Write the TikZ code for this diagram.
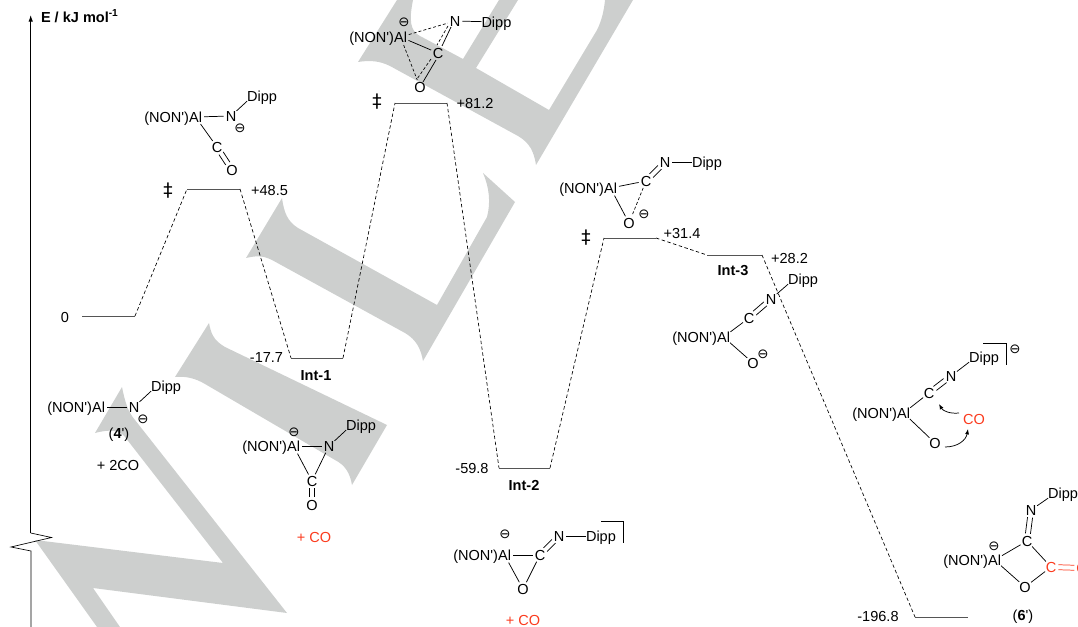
\documentclass[tikz,border=0pt]{standalone}
\usepackage{fontspec}
\setmainfont{Liberation Sans}[Ligatures=TeXOff]
\newfontfamily\djv{DejaVu Sans}
\usetikzlibrary{arrows.meta}
\definecolor{wm}{HTML}{CDCFCE}
\definecolor{redco}{HTML}{FB3B1E}
\definecolor{lev}{HTML}{555555}
\tikzset{
  lab/.style={font=\fontsize{10.9pt}{12pt}\selectfont, inner sep=0pt, outer sep=0pt, text height=7.8pt, text depth=0pt},
  boldlab/.style={lab, font=\fontsize{10.9pt}{12pt}\selectfont\bfseries},
  redlab/.style={lab, text=redco},
  atom/.style={lab, circle, minimum size=11.2pt},
  alhub/.style={circle, minimum size=13pt, inner sep=0pt, outer sep=0pt},
  chg/.style={font=\fontsize{10pt}{12pt}\selectfont\djv, inner sep=0pt},
  dag/.style={font=\fontsize{14pt}{14pt}\selectfont\djv, inner sep=0pt},
  bond/.style={line width=0.55pt, black, line cap=butt},
  dbond/.style={line width=0.5pt, black, dash pattern=on 2.2pt off 1.6pt},
  path line/.style={line width=0.5pt, black, dash pattern=on 2.6pt off 1.9pt},
  level/.style={line width=0.7pt, lev},
  axis/.style={line width=0.7pt, black},
  curly/.style={line width=0.55pt, black, -{Latex[length=4pt,width=3pt]}},
  wmfill/.style={fill=wm, draw=none}
}
\newcommand\twobond[5][]{%
  \draw[bond,#1,transform canvas={shift={(#4,#5)}}] (#2) -- (#3);
  \draw[bond,#1,transform canvas={shift={(-#4,-#5)}}] (#2) -- (#3);}
\begin{document}
\begin{tikzpicture}[x=0.75pt,y=-0.75pt]
\useasboundingbox (0,0) rectangle (1078,627);
% watermark
\fill[wmfill] (122,387) .. controls (125,402) and (128,412) .. (135,420) -- (287,613) -- (93,588) -- (120,627) -- (97,627) -- (35,540) -- (223,563) -- (125,437) .. controls (120,430) and (110,429) .. (95,433) -- cycle;
\fill[wmfill] (209,323) .. controls (211,333) and (213,340) .. (225,347) -- (387,425) -- (352,485) .. controls (350,473) and (345,465) .. (335,460) -- (205,384) .. controls (195,378) and (185,376) .. (175,377) -- cycle;
\fill[wmfill] (282,198) .. controls (284,212) and (287,221) .. (298,228) -- (437,305) -- (487,217) .. controls (491,202) and (489,187) .. (483,173) -- (515,202) -- (423,361) .. controls (421,350) and (417,340) .. (405,333) -- (272,260) .. controls (262,255) and (255,256) .. (246,258) -- cycle;
\fill[wmfill] (397,0) -- (358,62) .. controls (370,60) and (380,61) .. (390,66) -- (518,136) .. controls (530,143) and (534,152) .. (536,165) -- (633,0) -- (605,0) .. controls (604,10) and (602,20) .. (597,30) -- (549,110) -- (476,68) -- (518,0) -- (499,0) -- (463,59) -- (420,36) .. controls (410,31) and (409,20) .. (413,0) -- cycle;
% axis
\coordinate (ax0) at (30.7,533);
\coordinate (axtop) at (30.7,15);
\coordinate (br1) at (51.5,537.5);
\coordinate (br2) at (11,547);
\coordinate (br3) at (31,551);
\coordinate (ax1) at (31,627);
\draw[axis,-{Latex[length=5pt,width=3.4pt]}] (ax0) -- (axtop);
\draw[line width=0.5pt] (ax0) -- (br1) -- (br2) -- (br3) -- (ax1);
\node[boldlab, anchor=west] (ylab) at (41,17) {E / kJ mol\textsuperscript{-1}};
% levels
\coordinate (l0a) at (82,316);   \coordinate (l0b) at (135,316);
\coordinate (l1a) at (187,189);  \coordinate (l1b) at (240,189);
\coordinate (l2a) at (291,358);  \coordinate (l2b) at (343,358);
\coordinate (l3a) at (395,103);  \coordinate (l3b) at (447,103);
\coordinate (l4a) at (499,468);  \coordinate (l4b) at (550,468);
\coordinate (l5a) at (604,238);  \coordinate (l5b) at (656,238);
\coordinate (l6a) at (707,255);  \coordinate (l6b) at (762,255);
\coordinate (l7a) at (915,617);  \coordinate (l7b) at (968,617);
\foreach \n in {0,...,7} \draw[level] (l\n a) -- (l\n b);
\draw[path line] (l0b) -- (l1a);
\draw[path line] (l1b) -- (l2a);
\draw[path line] (l2b) -- (l3a);
\draw[path line] (l3b) -- (l4a);
\draw[path line] (l4b) -- (l5a);
\draw[path line] (l5b) -- (l6a);
\draw[path line] (l6b) -- (l7a);
% level labels
\node[lab] (v0) at (65,317) {0};
\node[lab] (v1) at (269.5,190) {+48.5};
\node[lab] (v2) at (266.5,357) {-17.7};
\node[lab] (v3) at (475,103) {+81.2};
\node[lab] (v4) at (472,468) {-59.8};
\node[lab] (v5) at (682,233) {+31.4};
\node[lab] (v6) at (789.5,258) {+28.2};
\node[lab] (v7) at (878,616) {-196.8};
\node[boldlab] (i1) at (316,375) {Int-1};
\node[boldlab] (i2) at (524,485) {Int-2};
\node[boldlab] (i3) at (733,270) {Int-3};
\node[dag] (d1) at (168,191) {‡};
\node[dag] (d2) at (377,102) {‡};
\node[dag] (d3) at (586,238) {‡};
% molecule 4'
\node[lab, anchor=east] (aAl) at (105,407) {(NON')Al};
\node[alhub] (aH) at (98.5,407) {};
\node[atom] (aN) at (134,407) {N};
\node[lab] (aD) at (166,386) {Dipp};
\node[chg] (aC) at (143,419) {⊖};
\draw[bond] (aH) -- (aN);
\draw[bond] (aN) -- (aD.south west);
\node[lab] (c4) at (119,433) {(\textbf{4}')};
\node[lab] (p2co) at (118,465) {+ 2CO};
% molecule Int-1 lower
\node[lab, anchor=east] (bAl) at (300,446) {(NON')Al};
\node[alhub] (bH) at (293.5,446) {};
\node[atom] (bN) at (329,446) {N};
\node[lab] (bD) at (361,425) {Dipp};
\node[chg] (bC) at (294,432) {⊖};
\node[atom] (bCa) at (312,481) {C};
\node[atom] (bO) at (312,505) {O};
\draw[bond] (bH) -- (bN);
\draw[bond] (bN) -- (bD.south west);
\draw[bond] (bH) -- (bCa);
\draw[bond] (bN) -- (bCa);
\twobond{bCa}{bO}{2.5}{0}
\node[redlab] (pco1) at (314,537) {+ CO};
% TS1
\node[lab, anchor=east] (cAl) at (202,117) {(NON')Al};
\node[alhub] (cH) at (195.5,117) {};
\node[atom] (cN) at (231,116) {N};
\node[lab] (cD) at (262,96) {Dipp};
\node[chg] (cC) at (240,128) {⊖};
\node[atom] (cCa) at (217,147) {C};
\node[atom] (cO) at (232,170) {O};
\draw[bond] (cH) -- (cN);
\draw[bond] (cN) -- (cD.south west);
\draw[bond] (cH) -- (cCa);
\twobond{cCa}{cO}{2.1}{-1.4}
% TS2
\node[lab, anchor=east] (dAl) at (407,37) {(NON')Al};
\node[alhub] (dH) at (400.5,37) {};
\node[atom] (dN) at (455,21) {N};
\node[lab, anchor=west] (dD) at (481.5,22) {Dipp};
\node[chg] (dC) at (404,22) {⊖};
\node[atom] (dCa) at (438,53) {C};
\node[atom] (dO) at (420,87) {O};
\draw[bond] (dN) -- (dD);
\draw[dbond] (dH) -- (dN);
\draw[bond] (dH) -- (dCa);
\draw[dbond] (dH) -- (dO);
\coordinate (dn1) at (448,26); \coordinate (dn2) at (437,45);
\coordinate (dn3) at (451,27); \coordinate (dn4) at (442,46);
\coordinate (do1) at (431,59); \coordinate (do2) at (417,79);
\coordinate (do3) at (436,60); \coordinate (do4) at (423,82);
\draw[dbond] (dn1) -- (dn2);
\draw[bond] (dn3) -- (dn4);
\draw[dbond] (do1) -- (do2);
\draw[bond] (do3) -- (do4);
% TS3
\node[lab, anchor=east] (eAl) at (617,188) {(NON')Al};
\node[alhub] (eH) at (610.5,188) {};
\node[atom] (eCa) at (646,181) {C};
\node[atom] (eN) at (665,162) {N};
\node[lab, anchor=west] (eD) at (692,162) {Dipp};
\node[atom] (eO) at (629,223) {O};
\node[chg] (eC) at (644,214) {⊖};
\draw[bond] (eH) -- (eCa);
\twobond{eCa}{eN}{1.8}{1.8}
\draw[bond] (eN) -- (eD);
\draw[bond] (eH) -- (eO);
\draw[dbond] (eCa) -- (eO);
% Int-3 species
\node[lab, anchor=east] (fAl) at (730,337) {(NON')Al};
\node[alhub] (fH) at (723.5,337) {};
\node[atom] (fCa) at (749,318) {C};
\node[atom] (fN) at (771,299) {N};
\node[lab] (fD) at (803,279) {Dipp};
\node[atom] (fO) at (753,363) {O};
\node[chg] (fC) at (763,354) {⊖};
\draw[bond] (fH) -- (fCa);
\twobond{fCa}{fN}{1.6}{1.9}
\draw[bond] (fN) -- (fD.south west);
\draw[bond] (fH) -- (fO);
% Int-2 species
\node[lab, anchor=east] (gAl) at (511,555) {(NON')Al};
\node[alhub] (gH) at (504.5,555) {};
\node[atom] (gCa) at (540,555) {C};
\node[atom] (gN) at (559,536) {N};
\node[lab, anchor=west] (gD) at (586,536) {Dipp};
\node[chg] (gC) at (505,534) {⊖};
\node[atom] (gO) at (523,589) {O};
\draw[bond] (gH) -- (gCa);
\twobond{gCa}{gN}{1.8}{1.8}
\draw[bond] (gN) -- (gD);
\draw[bond] (gH) -- (gO);
\draw[bond] (gCa) -- (gO);
\coordinate (gb1) at (601,521); \coordinate (gb2) at (623,521); \coordinate (gb3) at (623,543);
\draw[bond] (gb1) -- (gb2) -- (gb3);
\node[redlab] (pco2) at (523,620.5) {+ CO};
% CO attack species
\node[lab, anchor=east] (hAl) at (910,413) {(NON')Al};
\node[alhub] (hH) at (903.5,413) {};
\node[atom] (hCa) at (929,393) {C};
\node[atom] (hN) at (951,376) {N};
\node[lab] (hD) at (984,357) {Dipp};
\node[atom] (hO) at (935,443) {O};
\node[redlab] (hCO) at (974,419) {CO};
\node[chg] (hC) at (1015,349) {⊖};
\draw[bond] (hH) -- (hCa);
\twobond{hCa}{hN}{1.5}{2}
\draw[bond] (hN) -- (hD.south west);
\draw[bond] (hH) -- (hO);
\coordinate (hb1) at (983,343); \coordinate (hb2) at (1006,343); \coordinate (hb3) at (1006,365);
\draw[bond] (hb1) -- (hb2) -- (hb3);
\coordinate (ha1) at (959,413); \coordinate (ha2) at (939,404);
\coordinate (hc1) at (945,447); \coordinate (hc2) at (968,429);
\draw[curly] (ha1) .. controls (950,414) and (943,411) .. (ha2);
\draw[curly] (hc1) .. controls (958,447) and (966,440) .. (hc2);
% 6'
\node[lab, anchor=east] (jAl) at (1001,560) {(NON')Al};
\node[alhub] (jH) at (994.5,560) {};
\node[chg] (jC) at (994,546) {⊖};
\node[atom] (jCa) at (1027,541) {C};
\node[atom] (jN) at (1031,510) {N};
\node[lab] (jD) at (1063,493) {Dipp};
\node[atom] (jO) at (1025,587) {O};
\node[atom, text=redco] (jC2) at (1051,567) {C};
\node[atom, text=redco] (jO2) at (1082,568) {O};
\draw[bond] (jH) -- (jCa);
\draw[bond] (jH) -- (jO);
\draw[bond] (jCa) -- (jC2);
\draw[bond] (jO) -- (jC2);
\twobond{jCa}{jN}{2.5}{0.3}
\draw[bond] (jN) -- (jD.south west);
\twobond[draw=redco]{jC2}{jO2}{0}{2.5}
\node[lab] (c6) at (1023,615) {(\textbf{6}')};
\end{tikzpicture}
\end{document}
